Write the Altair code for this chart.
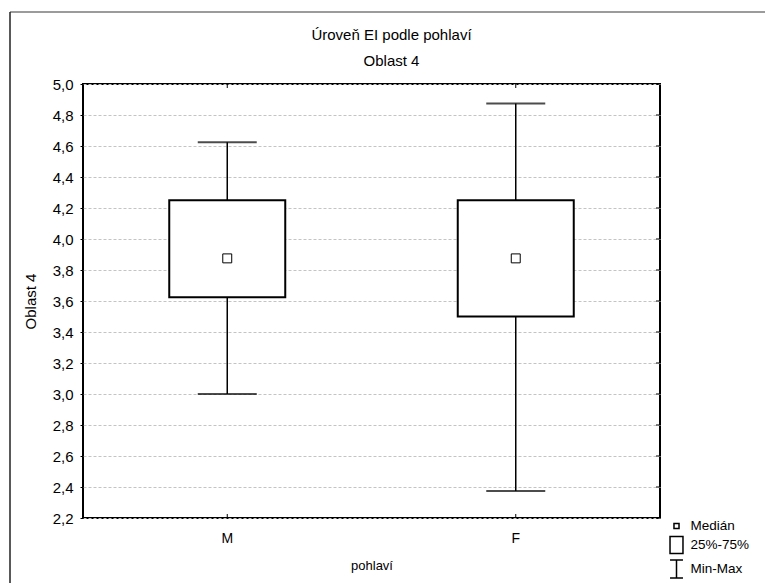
import altair as alt
import pandas as pd

# ---- data ----
categories = ["M", "F"]
minimum = [3.0, 2.375]
q1 = [3.625, 3.5]
median = [3.875, 3.875]
q3 = [4.25, 4.25]
maximum = [4.625, 4.875]
y_ticks = [2.2, 2.4, 2.6, 2.8, 3.0, 3.2, 3.4, 3.6, 3.8, 4.0, 4.2, 4.4, 4.6, 4.8, 5.0]
legend_labels = ["Medián", "25%-75%", "Min-Max"]

df = pd.DataFrame({"pohlavi": categories, "mn": minimum, "q1": q1,
                   "med": median, "q3": q3, "mx": maximum})
ticks_df = pd.DataFrame({"v": y_ticks})
legend_df = pd.DataFrame({"item": legend_labels})
one = pd.DataFrame({"k": [0]})

W, H = 577, 434
FONT = "Liberation Sans"

x_axis = alt.Axis(title="pohlaví", labelAngle=0, ticks=False, domain=False, grid=False,
                  labelPadding=13, titlePadding=14, labelFontSize=14, titleFontSize=13,
                  titleFontWeight="normal", labelColor="black", titleColor="black",
                  labelFont=FONT, titleFont=FONT)
x_scale = alt.Scale(type="band", domain=categories, paddingInner=0, paddingOuter=0)

y_axis = alt.Axis(title="Oblast 4", values=y_ticks,
                  labelExpr="replace(format(datum.value, '.1f'), '.', ',')",
                  grid=True, gridDash=[3, 2], gridColor="#c4c4c4", gridWidth=1,
                  domain=False, tickSize=3, tickColor="black", labelPadding=7,
                  titlePadding=14, labelFontSize=15, titleFontSize=15,
                  titleFontWeight="normal", labelColor="black", titleColor="black",
                  labelFont=FONT, titleFont=FONT)
y_scale = alt.Scale(domain=[2.2, 5.0], nice=False, zero=False)


def X():
    return alt.X("pohlavi:N", sort=categories, scale=x_scale, axis=x_axis)


def Y(f):
    return alt.Y(f, scale=y_scale, axis=y_axis)


base = alt.Chart(df)

whisker = base.mark_rule(color="black", strokeWidth=1.5).encode(
    x=X(), y=Y("mn:Q"), y2="mx:Q")
cap_hi = base.mark_tick(color="black", size=59, thickness=2, orient="horizontal").encode(
    x=X(), y=Y("mx:Q"))
cap_lo = base.mark_tick(color="black", size=59, thickness=2, orient="horizontal").encode(
    x=X(), y=Y("mn:Q"))
box = base.mark_bar(size=116, fill="white", stroke="black", strokeWidth=2).encode(
    x=X(), y=Y("q1:Q"), y2="q3:Q")
med = base.mark_point(shape="square", size=80, filled=False, fill="white",
                      stroke="black", strokeWidth=1, opacity=1).encode(
    x=X(), y=Y("med:Q"))

# inward ticks on the right, top and bottom edges
right_ticks = alt.Chart(ticks_df).mark_rule(color="black", strokeWidth=1).encode(
    y=Y("v:Q"), x=alt.value(W), x2=alt.value(W - 4))
bottom_ticks = base.mark_rule(color="black", strokeWidth=1).encode(
    x=X(), y=alt.value(H), y2=alt.value(H - 4))
top_ticks = base.mark_rule(color="black", strokeWidth=1).encode(
    x=X(), y=alt.value(0), y2=alt.value(4))

# window frame lines (decoration)
frame_top = alt.Chart(one).mark_rule(color="#7a7a7a", strokeWidth=1.5).encode(
    x=alt.value(-73), x2=alt.value(700), y=alt.value(-72))
frame_left = alt.Chart(one).mark_rule(color="#222222", strokeWidth=1.5).encode(
    x=alt.value(-73), y=alt.value(-72), y2=alt.value(520))

# legend
shape_paths = [
    "M-0.28,-0.28H0.28V0.28H-0.28Z",
    "M-0.72,-0.94H0.72V0.94H-0.72Z",
    "M-0.72,-1H0.72M0,-1V1M-0.72,1H0.72",
]
legend_layer = alt.Chart(legend_df).mark_point(color="black", opacity=0, filled=False).encode(
    shape=alt.Shape("item:N", sort=legend_labels,
                    scale=alt.Scale(domain=legend_labels, range=shape_paths),
                    legend=alt.Legend(title=None, orient="none", legendX=583.5, legendY=432,
                                      symbolSize=324, symbolStrokeColor="black",
                                      symbolFillColor="white", symbolStrokeWidth=1.5,
                                      symbolOpacity=1, labelFontSize=13.5, labelFont=FONT,
                                      labelColor="black", labelOffset=4, rowPadding=0,
                                      padding=0)))

chart = alt.layer(
    whisker, cap_hi, cap_lo, box, med, right_ticks, bottom_ticks, top_ticks,
    frame_top, frame_left, legend_layer
).properties(
    width=W, height=H,
    title=alt.TitleParams(text="Úroveň EI podle pohlaví", subtitle="Oblast 4",
                          font=FONT, subtitleFont=FONT, fontSize=15, subtitleFontSize=15,
                          fontWeight="normal", color="black", subtitleColor="black",
                          anchor="middle", frame="group", dx=20, offset=-58,
                          subtitlePadding=11),
    autosize=alt.AutoSizeParams(type="none"),
    padding={"left": 83, "top": 84, "right": 105, "bottom": 65},
    background="white",
).configure_view(stroke="black", strokeWidth=2)

chart.save("out.html", embed_options={"renderer": "svg", "actions": False})
